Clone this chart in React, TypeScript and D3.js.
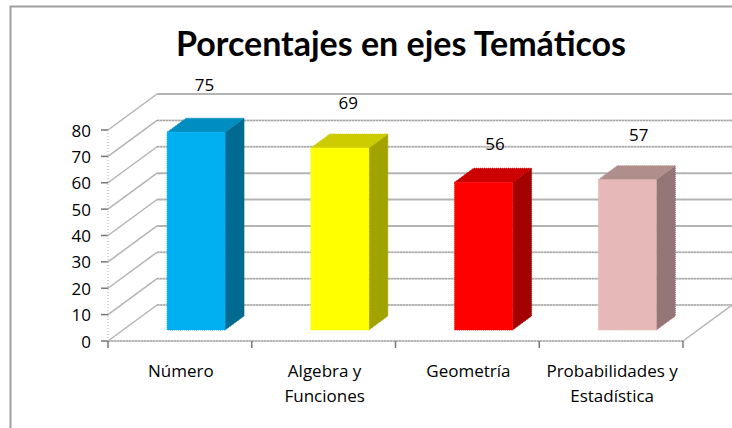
import React from "react";
import * as d3 from "d3";

const categories = [["Número"], ["Algebra y", "Funciones"], ["Geometría"], ["Probabilidades y", "Estadística"]];
const values = [75, 69, 56, 57];
const labels = ["75", "69", "56", "57"];
const frontColors = ["#00b0f0", "#ffff00", "#ff0000", "#e6b8b7"];
const topColors = ["#008dc0", "#cccc00", "#cc0000", "#b08e8c"];
const sideColors = ["#006a90", "#a3a300", "#a30000", "#937675"];
const yTicks = [0, 10, 20, 30, 40, 50, 60, 70, 80];
const labelTops = [85, 103, 144, 135];
const labelShifts = [0, 0, 3, 3];
const wavyTicks = [0, 10, 20, 60, 70];
const FONT = "'Open Sans', sans-serif";

export default function App() {
  const y = d3.scaleLinear().domain([0, 80]).range([341, 130]);
  const x = d3.scaleBand<number>().domain([0, 1, 2, 3]).range([108, 683]);
  const wallDx = 49, wallDy = -36;
  const barInset = 11, barDx = 19, barDy = -14, barW = 58;
  const gridC = "#b4b4b4";
  const poly = (pts: number[][]) => d3.line()(pts as [number, number][]) + "Z";
  return (
    <svg width={732} height={428} style={{ position: "absolute", left: 0, top: 0, background: "#fff" }} fontFamily={FONT}>
      <path d="M10.5 428V6.5H732" fill="none" stroke="#a0a0a0" strokeWidth={2} />
      <text x={401} y={55.5} textAnchor="middle" fontSize={34} fontWeight={700} fontFamily="Lato, sans-serif" fill="#000">Porcentajes en ejes Temáticos</text>

      {yTicks.map((t) => {
        const yy = y(t);
        const wavy = wavyTicks.includes(t);
        return (
          <g key={t}>
            <line x1={108} x2={108 + wallDx} y1={yy} y2={yy + wallDy} stroke={gridC} strokeWidth={1.5} />
            <line x1={108 + wallDx} x2={732} y1={yy + wallDy} y2={yy + wallDy} stroke={wavy ? "#cfcfcf" : gridC} strokeWidth={2} />
            {wavy && <line x1={108 + wallDx} x2={732} y1={yy + wallDy} y2={yy + wallDy} stroke="#a0a0a0" strokeWidth={1} strokeDasharray="2 1" />}
            <line x1={101} x2={108} y1={yy} y2={yy} stroke="#777" strokeWidth={1.5} />
            <text x={91} y={yy + 6.5} textAnchor="end" fontSize={17} fill="#000">{t}</text>
          </g>
        );
      })}
      <line x1={108} x2={108} y1={y(0)} y2={y(80)} stroke="#aaa" strokeDasharray="1 2" />
      <line x1={108} x2={683} y1={y(0)} y2={y(0)} stroke="#cfcfcf" strokeWidth={2} />
      <line x1={108} x2={683} y1={y(0)} y2={y(0)} stroke="#a0a0a0" strokeWidth={1} strokeDasharray="2 1" />
      <line x1={683} x2={683 + wallDx} y1={y(0)} y2={y(0) + wallDy} stroke={gridC} strokeWidth={1.5} />
      {[0, 1, 2, 3, 4].map((i) => {
        const xx = 108 + i * x.bandwidth();
        return <line key={i} x1={xx} x2={xx} y1={y(0)} y2={y(0) + 7} stroke="#777" strokeWidth={1.5} />;
      })}

      {values.map((v, i) => {
        const c = (x(i) as number) + x.bandwidth() / 2;
        const xl = c - 12.8, xr = xl + barW;
        const yt = y(v) - barInset, yb = y(0) - barInset;
        return (
          <g key={i}>
            <path d={poly([[xr, yt], [xr + barDx, yt + barDy], [xr + barDx, yb + barDy], [xr, yb]])} fill={sideColors[i]} stroke={sideColors[i]} strokeWidth={1} strokeDasharray="1 1" />
            <path d={poly([[xl, yt], [xl + barDx, yt + barDy], [xr + barDx, yt + barDy], [xr, yt]])} fill={topColors[i]} stroke={topColors[i]} strokeWidth={1} strokeDasharray="1 1" />
            <rect x={xl} y={yt} width={barW} height={yb - yt} fill={frontColors[i]} stroke={frontColors[i]} strokeWidth={1} strokeDasharray="1 1" />
            <text x={xl + 37.5 + labelShifts[i]} y={labelTops[i] + 6} textAnchor="middle" fontSize={17} fill="#000">{labels[i]}</text>
          </g>
        );
      })}

      {categories.map((lines, i) => {
        const c = (x(i) as number) + x.bandwidth() / 2;
        return (
          <text key={i} x={c + 1} textAnchor="middle" fontSize={17} fill="#000">
            {lines.map((l, j) => <tspan key={j} x={c + 1} y={377 + j * 24.5}>{l}</tspan>)}
          </text>
        );
      })}
    </svg>
  );
}
